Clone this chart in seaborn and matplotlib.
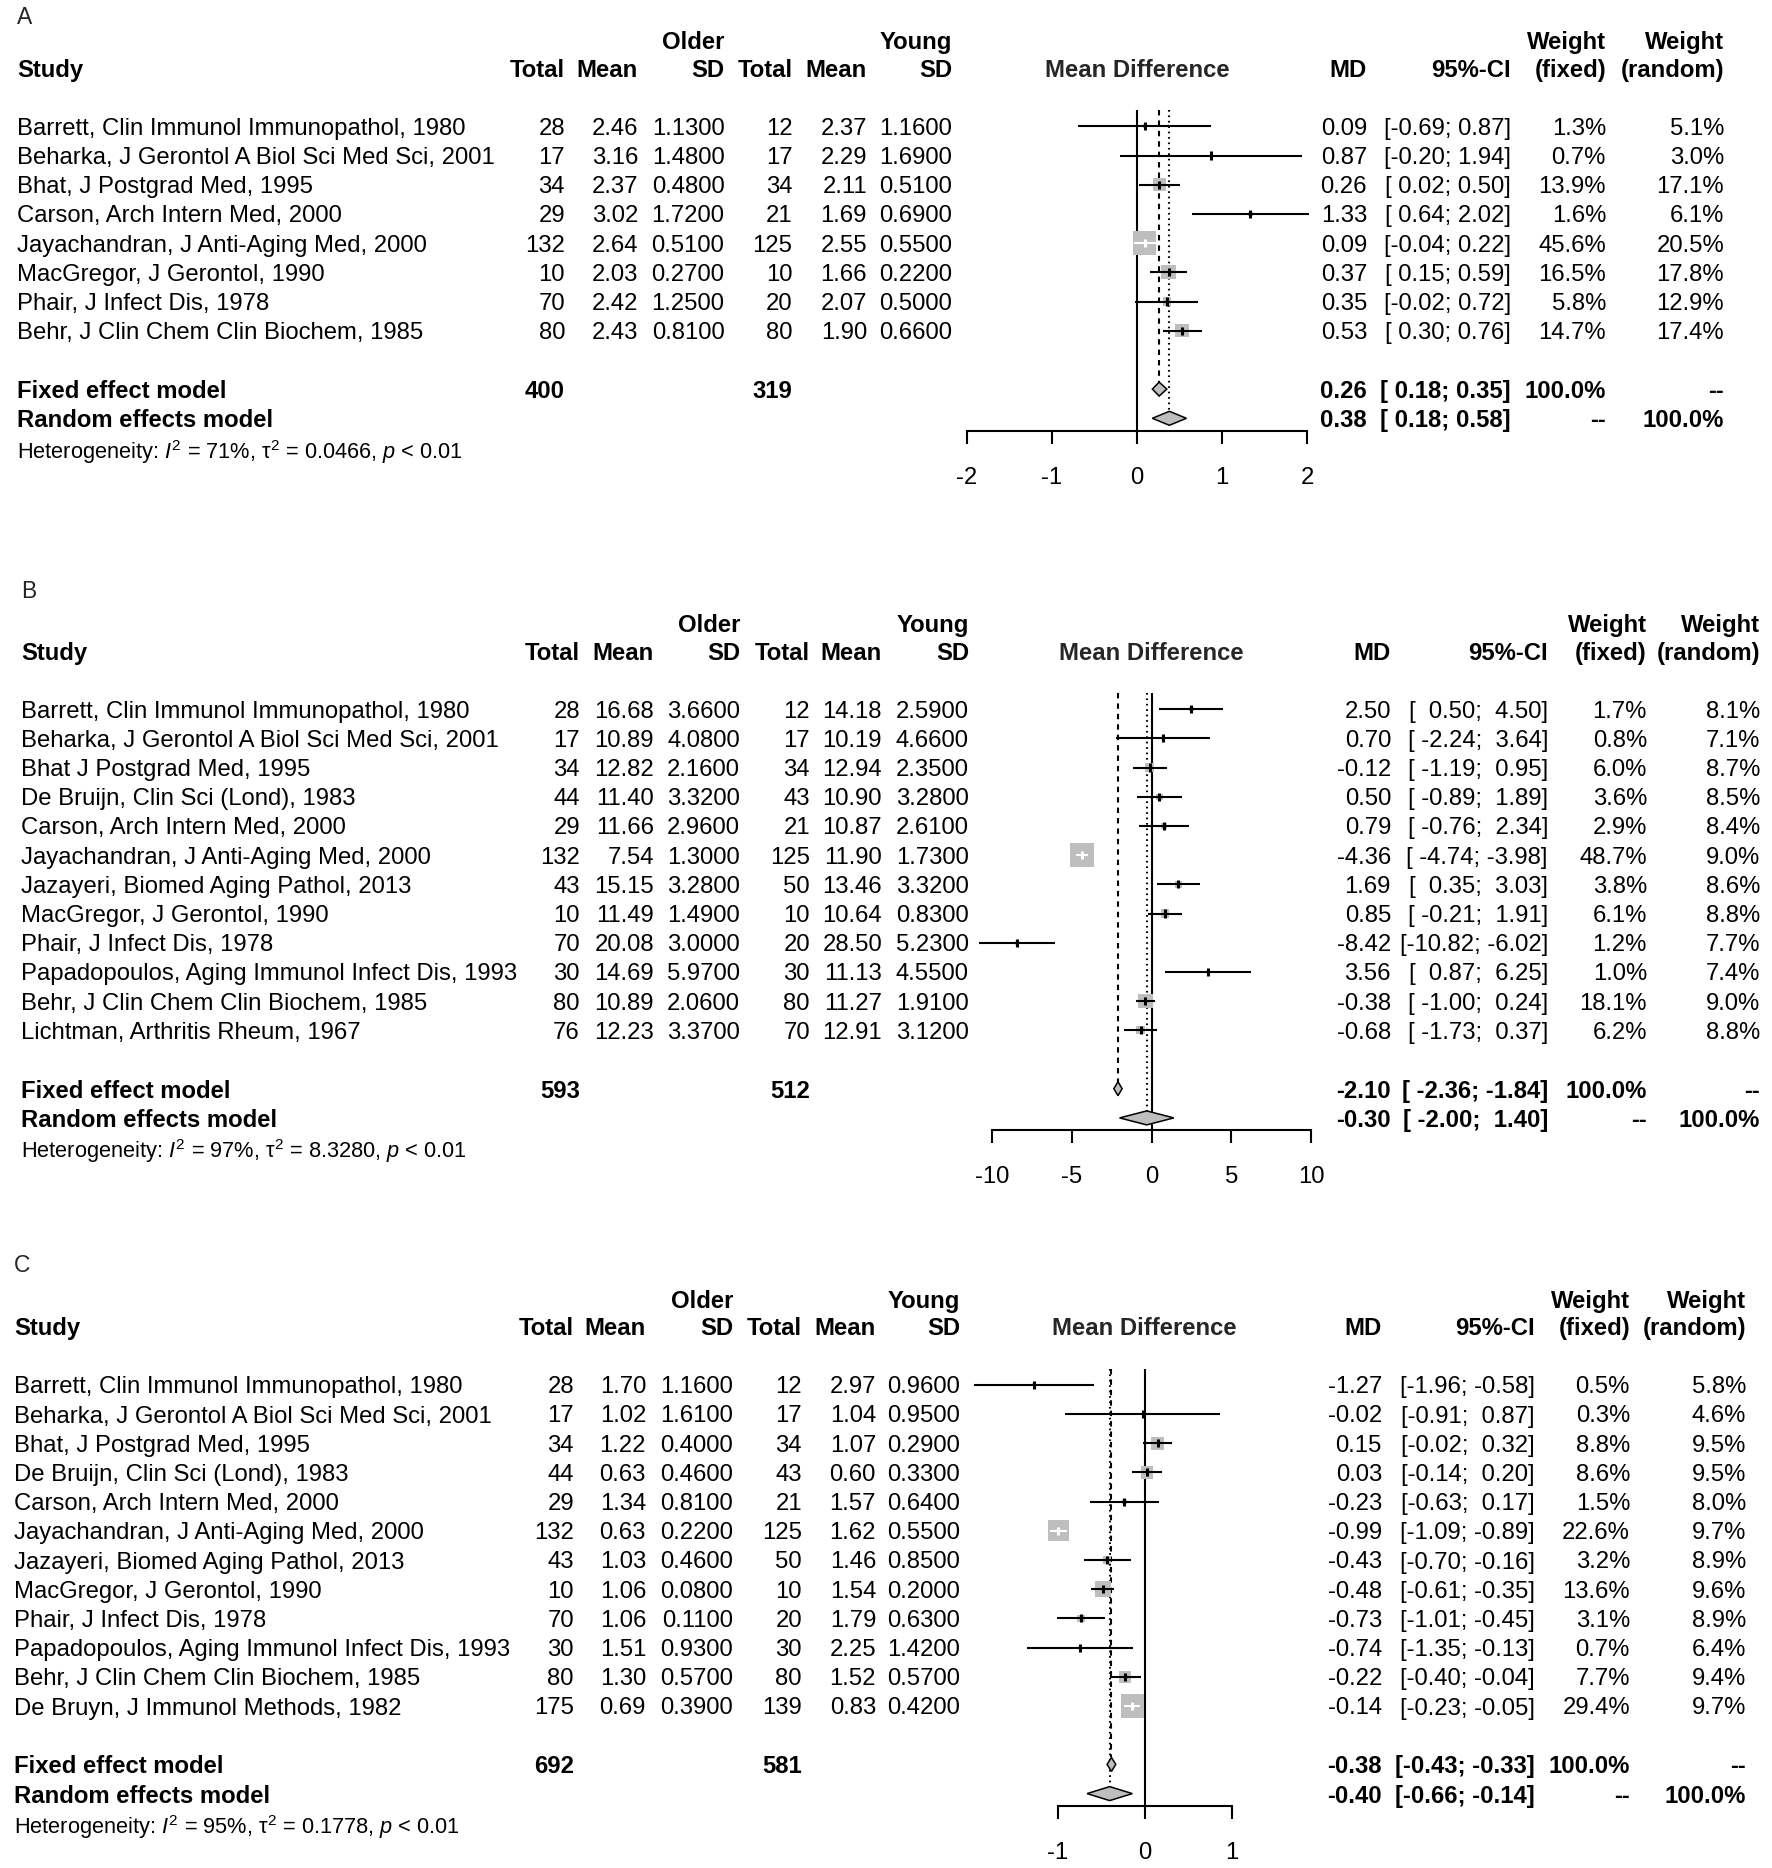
import numpy as np
import pandas as pd
import matplotlib
matplotlib.use("Agg")
import matplotlib.pyplot as plt
import matplotlib.transforms as mtransforms
import seaborn as sns

# ============================================================
# Forest plots: older vs young, mean difference (panels A, B, C)
# ============================================================

# --- Panel A ---
a_study = ["Barrett, Clin Immunol Immunopathol, 1980",
           "Beharka, J Gerontol A Biol Sci Med Sci, 2001",
           "Bhat, J Postgrad Med, 1995",
           "Carson, Arch Intern Med, 2000",
           "Jayachandran, J Anti-Aging Med, 2000",
           "MacGregor, J Gerontol, 1990",
           "Phair, J Infect Dis, 1978",
           "Behr, J Clin Chem Clin Biochem, 1985"]
a_old_n = [28, 17, 34, 29, 132, 10, 70, 80]
a_old_mean = [2.46, 3.16, 2.37, 3.02, 2.64, 2.03, 2.42, 2.43]
a_old_sd = [1.13, 1.48, 0.48, 1.72, 0.51, 0.27, 1.25, 0.81]
a_yng_n = [12, 17, 34, 21, 125, 10, 20, 80]
a_yng_mean = [2.37, 2.29, 2.11, 1.69, 2.55, 1.66, 2.07, 1.90]
a_yng_sd = [1.16, 1.69, 0.51, 0.69, 0.55, 0.22, 0.50, 0.66]
a_md = [0.09, 0.87, 0.26, 1.33, 0.09, 0.37, 0.35, 0.53]
a_lo = [-0.69, -0.20, 0.02, 0.64, -0.04, 0.15, -0.02, 0.30]
a_hi = [0.87, 1.94, 0.50, 2.02, 0.22, 0.59, 0.72, 0.76]
a_w_fixed = [1.3, 0.7, 13.9, 1.6, 45.6, 16.5, 5.8, 14.7]
a_w_random = [5.1, 3.0, 17.1, 6.1, 20.5, 17.8, 12.9, 17.4]
a_totals = [400, 319]
a_fixed = [0.26, 0.18, 0.35]
a_random = [0.38, 0.18, 0.58]
a_het = ["71%", "0.0466"]

# --- Panel B ---
b_study = ["Barrett, Clin Immunol Immunopathol, 1980",
           "Beharka, J Gerontol A Biol Sci Med Sci, 2001",
           "Bhat J Postgrad Med, 1995",
           "De Bruijn, Clin Sci (Lond), 1983",
           "Carson, Arch Intern Med, 2000",
           "Jayachandran, J Anti-Aging Med, 2000",
           "Jazayeri, Biomed Aging Pathol, 2013",
           "MacGregor, J Gerontol, 1990",
           "Phair, J Infect Dis, 1978",
           "Papadopoulos, Aging Immunol Infect Dis, 1993",
           "Behr, J Clin Chem Clin Biochem, 1985",
           "Lichtman, Arthritis Rheum, 1967"]
b_old_n = [28, 17, 34, 44, 29, 132, 43, 10, 70, 30, 80, 76]
b_old_mean = [16.68, 10.89, 12.82, 11.40, 11.66, 7.54, 15.15, 11.49, 20.08, 14.69, 10.89, 12.23]
b_old_sd = [3.66, 4.08, 2.16, 3.32, 2.96, 1.30, 3.28, 1.49, 3.00, 5.97, 2.06, 3.37]
b_yng_n = [12, 17, 34, 43, 21, 125, 50, 10, 20, 30, 80, 70]
b_yng_mean = [14.18, 10.19, 12.94, 10.90, 10.87, 11.90, 13.46, 10.64, 28.50, 11.13, 11.27, 12.91]
b_yng_sd = [2.59, 4.66, 2.35, 3.28, 2.61, 1.73, 3.32, 0.83, 5.23, 4.55, 1.91, 3.12]
b_md = [2.50, 0.70, -0.12, 0.50, 0.79, -4.36, 1.69, 0.85, -8.42, 3.56, -0.38, -0.68]
b_lo = [0.50, -2.24, -1.19, -0.89, -0.76, -4.74, 0.35, -0.21, -10.82, 0.87, -1.00, -1.73]
b_hi = [4.50, 3.64, 0.95, 1.89, 2.34, -3.98, 3.03, 1.91, -6.02, 6.25, 0.24, 0.37]
b_w_fixed = [1.7, 0.8, 6.0, 3.6, 2.9, 48.7, 3.8, 6.1, 1.2, 1.0, 18.1, 6.2]
b_w_random = [8.1, 7.1, 8.7, 8.5, 8.4, 9.0, 8.6, 8.8, 7.7, 7.4, 9.0, 8.8]
b_totals = [593, 512]
b_fixed = [-2.10, -2.36, -1.84]
b_random = [-0.30, -2.00, 1.40]
b_het = ["97%", "8.3280"]

# --- Panel C ---
c_study = ["Barrett, Clin Immunol Immunopathol, 1980",
           "Beharka, J Gerontol A Biol Sci Med Sci, 2001",
           "Bhat, J Postgrad Med, 1995",
           "De Bruijn, Clin Sci (Lond), 1983",
           "Carson, Arch Intern Med, 2000",
           "Jayachandran, J Anti-Aging Med, 2000",
           "Jazayeri, Biomed Aging Pathol, 2013",
           "MacGregor, J Gerontol, 1990",
           "Phair, J Infect Dis, 1978",
           "Papadopoulos, Aging Immunol Infect Dis, 1993",
           "Behr, J Clin Chem Clin Biochem, 1985",
           "De Bruyn, J Immunol Methods, 1982"]
c_old_n = [28, 17, 34, 44, 29, 132, 43, 10, 70, 30, 80, 175]
c_old_mean = [1.70, 1.02, 1.22, 0.63, 1.34, 0.63, 1.03, 1.06, 1.06, 1.51, 1.30, 0.69]
c_old_sd = [1.16, 1.61, 0.40, 0.46, 0.81, 0.22, 0.46, 0.08, 0.11, 0.93, 0.57, 0.39]
c_yng_n = [12, 17, 34, 43, 21, 125, 50, 10, 20, 30, 80, 139]
c_yng_mean = [2.97, 1.04, 1.07, 0.60, 1.57, 1.62, 1.46, 1.54, 1.79, 2.25, 1.52, 0.83]
c_yng_sd = [0.96, 0.95, 0.29, 0.33, 0.64, 0.55, 0.85, 0.20, 0.63, 1.42, 0.57, 0.42]
c_md = [-1.27, -0.02, 0.15, 0.03, -0.23, -0.99, -0.43, -0.48, -0.73, -0.74, -0.22, -0.14]
c_lo = [-1.96, -0.91, -0.02, -0.14, -0.63, -1.09, -0.70, -0.61, -1.01, -1.35, -0.40, -0.23]
c_hi = [-0.58, 0.87, 0.32, 0.20, 0.17, -0.89, -0.16, -0.35, -0.45, -0.13, -0.04, -0.05]
c_w_fixed = [0.5, 0.3, 8.8, 8.6, 1.5, 22.6, 3.2, 13.6, 3.1, 0.7, 7.7, 29.4]
c_w_random = [5.8, 4.6, 9.5, 9.5, 8.0, 9.7, 8.9, 9.6, 8.9, 6.4, 9.4, 9.7]
c_totals = [692, 581]
c_fixed = [-0.38, -0.43, -0.33]
c_random = [-0.40, -0.66, -0.14]
c_het = ["95%", "0.1778"]

# ------------------------------------------------------------
W, H, DPI = 1772, 1868, 100
ROW_PX = 29.2          # row height in pixels
FS = 17.2              # body font size
FS_HET = 15.7          # heterogeneity line
GREY = "#bebebe"
SQ_MAX_PX = 23.5       # side of the largest square


def fmt_ci(lo, hi):
    """R-style CI strings, padded to common width."""
    lo_s = [f"{v:.2f}" for v in lo]
    hi_s = [f"{v:.2f}" for v in hi]
    wl = max(len(s) for s in lo_s)
    wh = max(len(s) for s in hi_s)
    return [f"[{a:>{wl}}; {b:>{wh}}]" for a, b in zip(lo_s, hi_s)]


def draw_panel(fig, p):
    n = len(p["study"])
    top_row, bot_row = -4.5, n + 4.5
    top_px = p["row0"] + top_row * ROW_PX
    bot_px = p["row0"] + bot_row * ROW_PX
    left_px, right_px = 950, 1340
    ax = fig.add_axes([left_px / W, 1 - bot_px / H,
                       (right_px - left_px) / W, (bot_px - top_px) / H])
    ax.patch.set_visible(False)

    rows = np.arange(n)
    md = np.array(p["md"])
    lo = np.array(p["lo"])
    hi = np.array(p["hi"])
    wf = np.array(p["w_fixed"])
    unit = p["unit"]

    # --- study squares (area proportional to fixed weight) ---
    df = pd.DataFrame({"md": md, "row": rows, "w": wf})
    smax = (SQ_MAX_PX * 72 / DPI) ** 2
    sns.scatterplot(data=df, x="md", y="row", size="w", sizes=(0, smax),
                    size_norm=(0, wf.max()), marker="s", color=GREY,
                    linewidth=0, legend=False, ax=ax, zorder=2)

    side_px = SQ_MAX_PX * np.sqrt(wf / wf.max())
    inside = (hi - lo) * unit < side_px
    cols = ["white" if k else "black" for k in inside]
    ax.hlines(rows, lo, hi, colors=cols, lw=1.5, zorder=3)
    ax.vlines(md, rows - 0.14, rows + 0.14, colors=cols, lw=2.2, zorder=3)

    # --- summary diamonds ---
    h = 7 / ROW_PX
    r_fix, r_ran = n + 1, n + 2
    for (est, l, u), r in ((p["fixed"], r_fix), (p["random"], r_ran)):
        ax.fill([l, est, u, est], [r, r - h, r, r + h], facecolor=GREY,
                edgecolor="black", lw=1.1, zorder=3)

    # --- reference lines ---
    axis_row = n + 2.42
    ax.vlines(0, -0.55, axis_row, colors="black", lw=1.5, zorder=1)
    ax.plot([p["fixed"][0]] * 2, [-0.55, r_fix - h], color="black", lw=1.5,
            ls=(0, (2.6, 2.4)), zorder=1)
    ax.plot([p["random"][0]] * 2, [-0.55, r_ran - h], color="black", lw=1.5,
            ls=(0, (0.8, 1.8)), zorder=1)

    # --- axis ---
    ax.set_ylim(bot_row, top_row)
    ax.set_xlim((left_px - p["zero"]) / unit, (right_px - p["zero"]) / unit)
    ax.set_xlabel("")
    ax.set_ylabel("")
    for s in ("top", "left", "right"):
        ax.spines[s].set_visible(False)
    ax.spines["bottom"].set_position(("data", axis_row))
    ax.spines["bottom"].set_bounds(p["ticks"][0], p["ticks"][-1])
    ax.spines["bottom"].set_linewidth(1.5)
    ax.spines["bottom"].set_color("black")
    ax.set_xticks(p["ticks"])
    ax.set_xticklabels([str(t) for t in p["ticks"]])
    ax.set_yticks([])
    ax.tick_params(axis="x", bottom=True, direction="out", length=9.4,
                   width=1.5, pad=16.5, labelsize=FS, colors="black")

    # --- table text ---
    tr = mtransforms.blended_transform_factory(fig.transFigure, ax.transData)
    c = p["cols"]

    def put(xpx, row, s, ha="right", bold=False, size=FS):
        ax.text(xpx / W, row, s, transform=tr, ha=ha, va="center_baseline",
                fontsize=size, fontweight="bold" if bold else "normal",
                color="black")

    # headers
    hr1, hr2 = -2.95, -2.0
    put(c["study"], hr2, "Study", ha="left", bold=True)
    put(c["o_n"], hr2, "Total", bold=True)
    put(c["o_mean"], hr2, "Mean", bold=True)
    put(c["o_sd"], hr2, "SD", bold=True)
    put(c["o_sd"], hr1, "Older", bold=True)
    put(c["y_n"], hr2, "Total", bold=True)
    put(c["y_mean"], hr2, "Mean", bold=True)
    put(c["y_sd"], hr2, "SD", bold=True)
    put(c["y_sd"], hr1, "Young", bold=True)
    ax.text(0, hr2, "Mean Difference", ha="center", va="center_baseline",
            fontsize=FS, fontweight="bold")
    put(c["md"], hr2, "MD", bold=True)
    put(c["ci"], hr2, "95%-CI", bold=True)
    put(c["wf"], hr1, "Weight", bold=True)
    put(c["wf"], hr2, "(fixed)", bold=True)
    put(c["wr"], hr1, "Weight", bold=True)
    put(c["wr"], hr2, "(random)", bold=True)

    ci_all = fmt_ci(list(lo) + [p["fixed"][1], p["random"][1]],
                    list(hi) + [p["fixed"][2], p["random"][2]])

    for i in range(n):
        put(c["study"], i, p["study"][i], ha="left")
        put(c["o_n"], i, str(p["old_n"][i]))
        put(c["o_mean"], i, f"{p['old_mean'][i]:.2f}")
        put(c["o_sd"], i, f"{p['old_sd'][i]:.4f}")
        put(c["y_n"], i, str(p["yng_n"][i]))
        put(c["y_mean"], i, f"{p['yng_mean'][i]:.2f}")
        put(c["y_sd"], i, f"{p['yng_sd'][i]:.4f}")
        put(c["md"], i, f"{md[i]:.2f}")
        put(c["ci"], i, ci_all[i])
        put(c["wf"], i, f"{wf[i]:.1f}%")
        put(c["wr"], i, f"{p['w_random'][i]:.1f}%")

    # summary rows
    put(c["study"], r_fix, "Fixed effect model", ha="left", bold=True)
    put(c["o_n"], r_fix, str(p["totals"][0]), bold=True)
    put(c["y_n"], r_fix, str(p["totals"][1]), bold=True)
    put(c["md"], r_fix, f"{p['fixed'][0]:.2f}", bold=True)
    put(c["ci"], r_fix, ci_all[n], bold=True)
    put(c["wf"], r_fix, "100.0%", bold=True)
    put(c["wr"], r_fix, "--", bold=True)

    put(c["study"], r_ran, "Random effects model", ha="left", bold=True)
    put(c["md"], r_ran, f"{p['random'][0]:.2f}", bold=True)
    put(c["ci"], r_ran, ci_all[n + 1], bold=True)
    put(c["wf"], r_ran, "--", bold=True)
    put(c["wr"], r_ran, "100.0%", bold=True)

    het = (r"Heterogeneity: $I^{2}$ = " + p["het"][0]
           + r", τ$^{2}$ = " + p["het"][1] + r", $p$ < 0.01")
    put(c["study"], n + 3.02, het, ha="left", size=FS_HET)

    # panel letter
    fig.text(c["study"] / W, 1 - p["label_y"] / H, p["label"], ha="left",
             va="center", fontsize=16.5)


def main():
    sns.set_style("white")
    plt.rcParams["font.family"] = ["Liberation Sans", "DejaVu Sans"]
    plt.rcParams["mathtext.fontset"] = "custom"
    plt.rcParams["mathtext.rm"] = "Liberation Sans"
    plt.rcParams["mathtext.it"] = "Liberation Sans:italic"
    plt.rcParams["mathtext.bf"] = "Liberation Sans:bold"
    plt.rcParams["axes.unicode_minus"] = False

    fig = plt.figure(figsize=(W / DPI, H / DPI), dpi=DPI)
    fig.patch.set_facecolor("white")

    panels = [
        dict(label="A", label_y=18, row0=126.3, zero=1137, unit=85.2,
             ticks=[-2, -1, 0, 1, 2],
             cols=dict(study=17, o_n=565, o_mean=638, o_sd=724.5, y_n=792.5,
                       y_mean=867, y_sd=952, md=1367, ci=1511, wf=1606,
                       wr=1724),
             study=a_study, old_n=a_old_n, old_mean=a_old_mean,
             old_sd=a_old_sd, yng_n=a_yng_n, yng_mean=a_yng_mean,
             yng_sd=a_yng_sd, md=a_md, lo=a_lo, hi=a_hi,
             w_fixed=a_w_fixed, w_random=a_w_random, totals=a_totals,
             fixed=a_fixed, random=a_random, het=a_het),
        dict(label="B", label_y=592, row0=709.1, zero=1151.5, unit=15.96,
             ticks=[-10, -5, 0, 5, 10],
             cols=dict(study=21, o_n=580, o_mean=654, o_sd=740, y_n=810,
                       y_mean=882, y_sd=969, md=1391, ci=1548, wf=1647,
                       wr=1760),
             study=b_study, old_n=b_old_n, old_mean=b_old_mean,
             old_sd=b_old_sd, yng_n=b_yng_n, yng_mean=b_yng_mean,
             yng_sd=b_yng_sd, md=b_md, lo=b_lo, hi=b_hi,
             w_fixed=b_w_fixed, w_random=b_w_random, totals=b_totals,
             fixed=b_fixed, random=b_random, het=b_het),
        dict(label="C", label_y=1266, row0=1384.8, zero=1144.5, unit=87.0,
             ticks=[-1, 0, 1],
             cols=dict(study=14, o_n=574, o_mean=646, o_sd=733, y_n=802,
                       y_mean=876, y_sd=960, md=1382, ci=1535, wf=1630,
                       wr=1746),
             study=c_study, old_n=c_old_n, old_mean=c_old_mean,
             old_sd=c_old_sd, yng_n=c_yng_n, yng_mean=c_yng_mean,
             yng_sd=c_yng_sd, md=c_md, lo=c_lo, hi=c_hi,
             w_fixed=c_w_fixed, w_random=c_w_random, totals=c_totals,
             fixed=c_fixed, random=c_random, het=c_het),
    ]
    for p in panels:
        draw_panel(fig, p)

    fig.savefig("out.png", dpi=DPI, facecolor="white")


if __name__ == "__main__":
    main()
